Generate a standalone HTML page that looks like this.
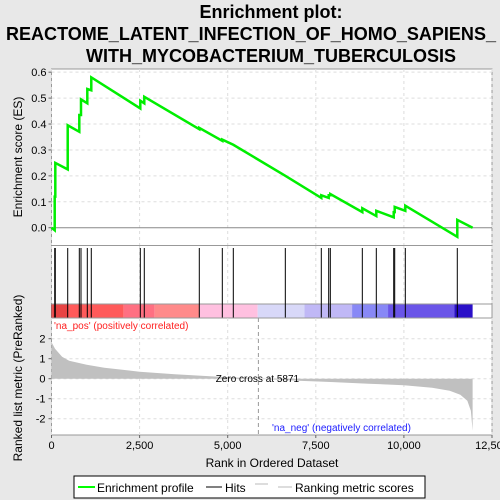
<!DOCTYPE html>
<html><head><meta charset="utf-8"><style>
body{margin:0;background:#e8e8e8;}
svg{display:block;font-family:"Liberation Sans",sans-serif;}
</style></head><body>
<svg id="c" width="500" height="500">
<rect width="500" height="500" fill="#e8e8e8"/>
<text x="271" y="18" text-anchor="middle" font-size="18" font-weight="bold">Enrichment plot:</text>
<text x="6" y="40" font-size="18" font-weight="bold" textLength="490" lengthAdjust="spacingAndGlyphs">REACTOME_LATENT_INFECTION_OF_HOMO_SAPIENS_</text>
<text x="271" y="62" text-anchor="middle" font-size="18" font-weight="bold">WITH_MYCOBACTERIUM_TUBERCULOSIS</text>
<g id="es"></g>
<g id="hitsg"></g>
<g id="rank"></g>
<text transform="translate(22,157) rotate(-90)" text-anchor="middle" font-size="12">Enrichment score (ES)</text>
<text transform="translate(22,378) rotate(-90)" text-anchor="middle" font-size="12">Ranked list metric (PreRanked)</text>
<text x="272" y="467" text-anchor="middle" font-size="12">Rank in Ordered Dataset</text>
<g>
<rect x="74" y="476" width="351" height="22" fill="#fff" stroke="#000"/>
<line x1="78" y1="487" x2="95" y2="487" stroke="#00ff00" stroke-width="2"/>
<text x="97" y="492" font-size="12">Enrichment profile</text>
<line x1="206" y1="487" x2="222" y2="487" stroke="#000"/>
<text x="225" y="492" font-size="12">Hits</text>
<line x1="255" y1="484" x2="268" y2="484" stroke="#bbb"/>
<line x1="278" y1="487" x2="292" y2="487" stroke="#bbb"/>
<text x="295" y="492" font-size="12">Ranking metric scores</text>
</g>
</svg>
<script>
const hitRanks=[91,108,460,789,837,1016,1129,2520,2633,4194,4847,5159,6635,7656,7866,7912,8820,9217,9711,9739,10040,11515];
const esBefore=[-0.01,0.12,0.225,0.37,0.435,0.48,0.53,0.46,0.48,0.38,0.335,0.32,0.2,0.115,0.115,0.125,0.06,0.045,0.04,0.06,0.065,-0.035];
const esAfter=[0.12,0.25,0.395,0.435,0.495,0.535,0.58,0.49,0.505,0.385,0.34,0.32,0.2,0.125,0.125,0.13,0.075,0.065,0.06,0.08,0.085,0.03];
const totalRanks=11950;
const metricRanks=[0,100,300,500,1000,1500,2500,3500,4500,5871,7000,8000,9000,10000,10800,11300,11600,11800,11900,11950];
const metricValues=[1.83,1.5,1.1,0.9,0.7,0.55,0.35,0.22,0.12,0,-0.1,-0.17,-0.25,-0.33,-0.45,-0.6,-0.8,-1.1,-1.6,-2.6];
const xTicks=[0,2500,5000,7500,10000,12500];
const xTickLabels=["0","2,500","5,000","7,500","10,000","12,500"];
const esTicks=[0,0.1,0.2,0.3,0.4,0.5,0.6];
const esTickLabels=["0.0","0.1","0.2","0.3","0.4","0.5","0.6"];
const mTicks=[2,1,0,-1,-2];
const barStops=[0,20,460,2050,2930,4200,5850,7180,8530,9550,11430,11950];
const barColors=["#d01818","#e84444","#ff5a5a","#ff7082","#ff8a8a","#ffc0e0","#d8d8f8","#c0b8f6","#8888f6","#6a55e8","#2a10c8"];

const NS="http://www.w3.org/2000/svg";
const L=51.5,R=492;
const X=r=>L+r*(R-L)/12500;
const YE=v=>227.7-v*259.2;
const YM=v=>378.7-v*20;
function mk(p,t,a){const e=document.createElementNS(NS,t);for(const k in a)e.setAttribute(k,a[k]);p.appendChild(e);return e;}
const es=document.getElementById('es'),hg=document.getElementById('hitsg'),rk=document.getElementById('rank');

let r=mk(es,'rect',{x:L,y:69,width:R-L,height:176.5,fill:'#fff',stroke:'#999'});


xTicks.forEach(t=>{mk(es,'line',{x1:X(t),x2:X(t),y1:69,y2:245,stroke:'#ddd','stroke-dasharray':'3,3'});});
esTicks.forEach((t,i)=>{
 mk(es,'line',{x1:L,x2:R,y1:YE(t),y2:YE(t),stroke:t===0?'#888':'#ddd','stroke-dasharray':t===0?'':'3,3'});
 mk(es,'line',{x1:L-3,x2:L,y1:YE(t),y2:YE(t),stroke:'#666'});
 const tx=mk(es,'text',{x:L-5,y:YE(t)+4,'text-anchor':'end','font-size':'11'});tx.textContent=esTickLabels[i];
 
 
});
let pts=[[0,0]];
hitRanks.forEach((h,i)=>{pts.push([h,esBefore[i]]);pts.push([h,esAfter[i]]);});
pts.push([totalRanks,0]);
const line=mk(es,'polyline',{points:pts.map(p=>X(p[0])+','+YE(p[1])).join(' '),fill:'none',stroke:'#00ee00','stroke-width':'2.5'});



let hr=mk(hg,'rect',{x:L,y:245.5,width:R-L,height:72.5,fill:'#fff',stroke:'#999'});


xTicks.forEach(t=>{mk(hg,'line',{x1:X(t),x2:X(t),y1:246,y2:304,stroke:'#ddd','stroke-dasharray':'3,3'});});
for(let i=0;i<barColors.length;i++){
 const b=mk(hg,'rect',{x:X(barStops[i]),y:304,width:X(barStops[i+1])-X(barStops[i]),height:14,fill:barColors[i]});
 
 
}
mk(hg,'line',{x1:L,x2:R,y1:304,y2:304,stroke:'#999'});
hitRanks.forEach(h=>{
 const l=mk(hg,'line',{x1:X(h),x2:X(h),y1:248,y2:318,stroke:'#000','stroke-width':'1'});
 
 
});

let mr=mk(rk,'rect',{x:L,y:318,width:R-L,height:117,fill:'#fff',stroke:'#999'});


xTicks.forEach((t,i)=>{
 mk(rk,'line',{x1:X(t),x2:X(t),y1:318,y2:435,stroke:'#ddd','stroke-dasharray':'3,3'});
 mk(rk,'line',{x1:X(t),x2:X(t),y1:435,y2:438,stroke:'#666'});
 const tx=mk(rk,'text',{x:X(t),y:449,'text-anchor':'middle','font-size':'11'});tx.textContent=xTickLabels[i];
 
 
});
mTicks.forEach(t=>{
 mk(rk,'line',{x1:L,x2:R,y1:YM(t),y2:YM(t),stroke:'#ddd','stroke-dasharray':'3,3'});
 mk(rk,'line',{x1:L-3,x2:L,y1:YM(t),y2:YM(t),stroke:'#666'});
 const tx=mk(rk,'text',{x:L-6,y:YM(t)+4,'text-anchor':'end','font-size':'11'});tx.textContent=String(t);
 
 
});
let mp=[[0,0]];metricRanks.forEach((m,i)=>mp.push([m,metricValues[i]]));mp.push([totalRanks,0]);
const area=mk(rk,'polygon',{points:mp.map(p=>X(p[0])+','+YM(p[1])).join(' '),fill:'#c0c0c0'});


const zc=mk(rk,'line',{x1:X(5871),x2:X(5871),y1:318,y2:435,stroke:'#999','stroke-dasharray':'4,3'});


const zt=mk(rk,'text',{x:X(5871)-1,y:382,'text-anchor':'middle','font-size':'10'});zt.textContent='Zero cross at 5871';


const pt=mk(rk,'text',{x:54,y:329,'font-size':'10',fill:'#ff2020'});pt.textContent="'na_pos' (positively correlated)";


const nt=mk(rk,'text',{x:272,y:431,'font-size':'10',fill:'#2020ff'});nt.textContent="'na_neg' (negatively correlated)";


</script>
</body></html>
